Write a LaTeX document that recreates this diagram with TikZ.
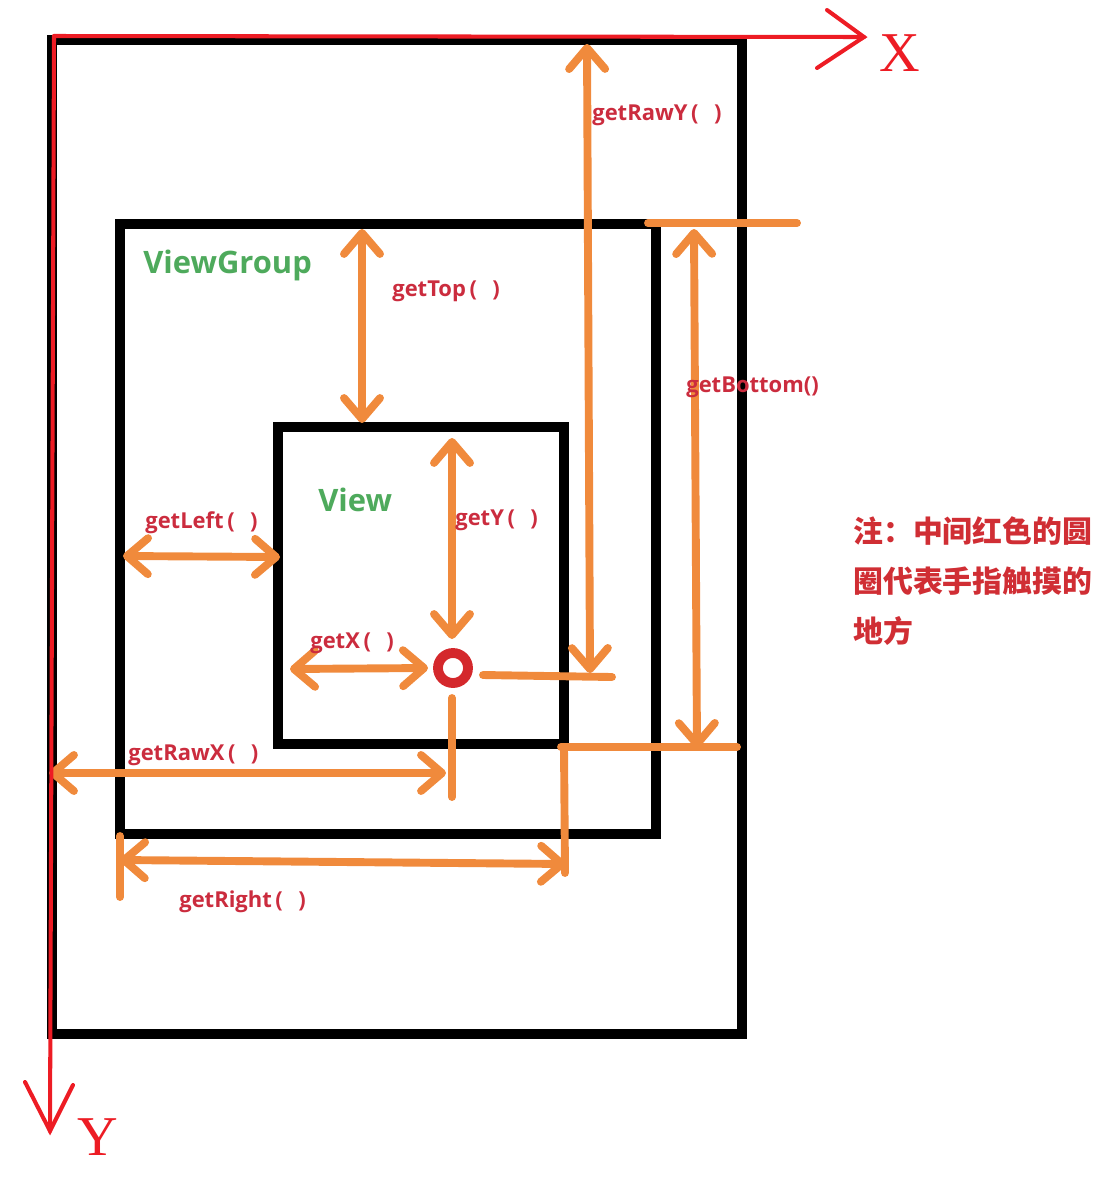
\documentclass[tikz,border=0pt]{standalone}
\usepackage{fontspec}
\setmainfont{Open Sans}
\newfontfamily\cjkfont{Noto Sans CJK SC}
\newfontfamily\axisfont{Liberation Serif}
\usetikzlibrary{arrows.meta}
\definecolor{org}{RGB}{240,138,60}
\definecolor{axred}{RGB}{237,28,36}
\definecolor{lblred}{RGB}{203,44,62}
\definecolor{cjkred}{RGB}{208,46,52}
\definecolor{ringred}{RGB}{212,40,44}
\definecolor{vgreen}{RGB}{78,170,92}
\newcommand{\pp}{\,(\hspace{0.7em})}
\begin{document}
\begin{tikzpicture}[x=0.02cm,y=-0.02cm,
  box/.style={draw=black,line width=5.6pt},
  oline/.style={draw=org,line width=4.5pt,line cap=round,line join=round},
  barb/.tip={Straight Barb[round,length=0.42cm,width=0.72cm]},
  dbl/.style={oline,barb-barb},
  axis/.style={draw=axred,line width=2.3pt,line cap=round,line join=miter},
  lab/.style={text=lblred,font=\bfseries\fontsize{12.5}{14}\selectfont,inner sep=0pt,anchor=west},
  grn/.style={text=vgreen,font=\bfseries\fontsize{17.6}{20}\selectfont,inner sep=0pt,anchor=west},
  cjk/.style={text=cjkred,font=\cjkfont\bfseries\fontsize{17}{20}\selectfont,inner sep=0pt,anchor=west},
  axl/.style={text=axred,font=\axisfont\fontsize{32}{34}\selectfont,inner sep=0pt}
]
\useasboundingbox (0,0) rectangle (1105,1184);

% frames
\coordinate (outNW) at (52,40);   \coordinate (outSE) at (742,1034);
\coordinate (vgNW) at (120,224);  \coordinate (vgSE) at (656,834);
\coordinate (vNW) at (278,427);   \coordinate (vSE) at (564,744);
\draw[box] (outNW) rectangle (outSE);
\draw[box] (vgNW) rectangle (vgSE);
\draw[box] (vNW) rectangle (vSE);

% touch point
\coordinate (touch) at (453,668);

% orange measures
\coordinate (topA) at (362,229);  \coordinate (topB) at (362,423);
\draw[dbl] (topA) -- (topB);

\coordinate (rawyA) at (587,44);  \coordinate (rawyB) at (590,673);
\draw[dbl] (rawyA) -- (rawyB);
\coordinate (hrA) at (483,675);   \coordinate (hrB) at (612,677);
\draw[oline] (hrA) -- (hrB);

\coordinate (btTopA) at (648,223); \coordinate (btTopB) at (797,223);
\draw[oline] (btTopA) -- (btTopB);
\coordinate (btA) at (694,229);   \coordinate (btB) at (697,748);
\draw[dbl] (btA) -- (btB);
\coordinate (btBotA) at (561,747); \coordinate (btBotB) at (737,747);
\draw[oline] (btBotA) -- (btBotB);
\coordinate (rtTop) at (564,747); \coordinate (rtV) at (565,873);
\draw[oline] (rtTop) -- (rtV);

\coordinate (rtA) at (120,860);   \coordinate (rtB) at (566,864);
\draw[dbl] (rtA) -- (rtB);
\coordinate (tickA) at (120,836); \coordinate (tickB) at (120,897);
\draw[oline] (tickA) -- (tickB);

\coordinate (lfA) at (123,556);   \coordinate (lfB) at (280,557);
\draw[dbl] (lfA) -- (lfB);

\coordinate (gxA) at (290,669);   \coordinate (gxB) at (428,668);
\draw[dbl] (gxA) -- (gxB);

\coordinate (gyA) at (452,438);   \coordinate (gyB) at (452,639);
\draw[dbl] (gyA) -- (gyB);

\coordinate (dnA) at (452,698);   \coordinate (dnB) at (452,797);
\draw[oline] (dnA) -- (dnB);

\coordinate (rxA) at (49,773);    \coordinate (rxB) at (446,773);
\draw[dbl] (rxA) -- (rxB);

% touch ring
\draw[draw=ringred,line width=5.6pt] (touch) circle[radius=15];

% axes
\coordinate (O) at (54,36);
\coordinate (xEnd) at (864,37);
\coordinate (xBarbU) at (827,10); \coordinate (xBarbL) at (817,68);
\coordinate (yEnd) at (50,1131);
\coordinate (yBarbL) at (25,1082); \coordinate (yBarbR) at (73,1085);
\draw[axis] (O) -- (xEnd);
\draw[axis] (xBarbU) -- (xEnd) -- (xBarbL);
\draw[axis] (O) -- (yEnd);
\draw[axis] (yBarbL) -- (yEnd) -- (yBarbR);
\node[axl] (xl) at (900,53) {X};
\node[axl] (yl) at (98,1137) {Y};

% labels
\node[lab] (lRawY) at (592,115) {getRawY\pp};
\node[lab] (lTop) at (392,291) {getTop\pp};
\node[lab] (lBottom) at (686,387) {getBottom()};
\node[lab] (lLeft) at (145,523) {getLeft\pp};
\node[lab] (lY) at (455,520) {getY\pp};
\node[lab] (lX) at (310,643) {getX\pp};
\node[lab] (lRawX) at (128,755) {getRawX\pp};
\node[lab] (lRight) at (179,902) {getRight\pp};
\node[grn] (lVG) at (143,265) {ViewGroup};
\node[grn] (lV) at (318,500) {View};

\node[cjk] (n1) at (853,531) {注：中间红色的圆};
\node[cjk] (n2) at (853,581) {圈代表手指触摸的};
\node[cjk] (n3) at (853,631) {地方};
\end{tikzpicture}
\end{document}
